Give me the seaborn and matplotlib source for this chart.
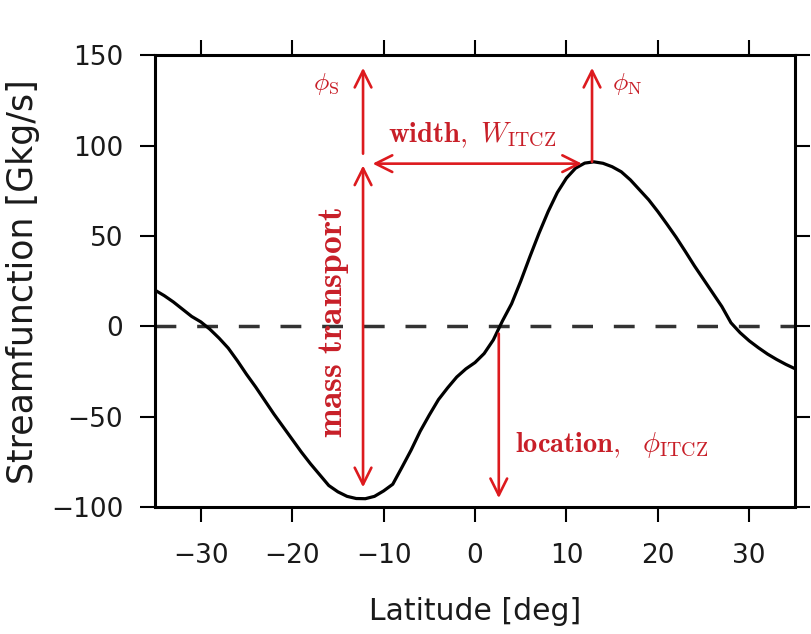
import matplotlib
matplotlib.use("Agg")
import matplotlib.pyplot as plt
import pandas as pd
import seaborn as sns

# Streamfunction (1 deg steps)
lat = list(range(-35, 36))
psi = [20, 17, 13.5, 9.5, 5.5, 2.5, -1.6, -6.5, -12, -19, -26.5,
       -33.5, -41, -48.5, -55.5, -62.5, -69.5, -76, -82, -88, -91.5,
       -94, -95.2, -95.3, -94, -91, -87.3, -78, -68.5, -58, -49,
       -40.5, -34, -28, -23.5, -20, -15, -7.5, 3, 12.5, 25,
       38.5, 51.5, 63.5, 74, 82, 87.5, 90.3, 91, 90.2, 88.3,
       85.5, 81, 75.5, 70, 63.5, 56.5, 49.3, 41.5, 33.5, 26,
       18.5, 11, 2, -3.5, -8, -11.8, -15.3, -18.3, -21, -23.4]

xticks = [-30, -20, -10, 0, 10, 20, 30]
yticks = [-100, -50, 0, 50, 100, 150]

df = pd.DataFrame({"lat": lat, "psi": psi})

sns.set_style("ticks")
plt.rcParams["font.family"] = ["DejaVu Sans"]
plt.rcParams["mathtext.fontset"] = "cm"

fig, ax = plt.subplots(figsize=(8.12, 6.34), dpi=100)
fig.subplots_adjust(left=0.191, right=0.979, bottom=0.200, top=0.913)

ax.axhline(0, color="0.2", lw=2.5, linestyle=(0, (6, 6)), zorder=1)
sns.lineplot(data=df, x="lat", y="psi", ax=ax, color="k", lw=2.3, zorder=3)

ax.set_xlim(-35, 35)
ax.set_ylim(-100, 150)
ax.set_xticks(xticks)
ax.set_yticks(yticks)
ax.tick_params(direction="out", length=11, width=1.5, top=True, right=True,
               colors="k", labelcolor="0.1")
ax.tick_params(axis="y", labelsize=19, pad=12)
ax.tick_params(axis="x", labelsize=19, pad=15)
for s in ax.spines.values():
    s.set_linewidth(2.2)
    s.set_color("k")
ax.set_xlabel("Latitude [deg]", fontsize=21.5, labelpad=20, color="0.1")
ax.set_ylabel("Streamfunction [Gkg/s]", fontsize=25, labelpad=8, color="0.1")

red = "#dd1a1e"
txt = "#c81f28"
arrow = dict(arrowstyle="->,head_length=0.6,head_width=0.3", color=red,
             lw=1.9, shrinkA=0, shrinkB=0, mutation_scale=20)
darrow = dict(arrow, arrowstyle="<->,head_length=0.6,head_width=0.3")

# phi_S and phi_N
ax.annotate("", xy=(-12.25, 143), xytext=(-12.25, 95.5), arrowprops=arrow)
ax.annotate("", xy=(12.8, 143), xytext=(12.8, 91), arrowprops=arrow)
ax.text(-14.8, 134, r"$\phi_{\mathrm{S}}$", color=txt, fontsize=18.5,
        ha="right", va="center")
ax.text(15.0, 134, r"$\phi_{\mathrm{N}}$", color=txt, fontsize=18.5,
        ha="left", va="center")

# width of the ITCZ
ax.annotate("", xy=(11.7, 90), xytext=(-11.2, 90), arrowprops=darrow)
ax.text(-9.5, 101.8, r"$\mathbf{width},\ W_{\mathrm{ITCZ}}$", color=txt,
        fontsize=20.5, ha="left", va="baseline")

# mass transport
ax.annotate("", xy=(-12.25, -89), xytext=(-12.25, 89), arrowprops=darrow)
ax.text(-15.4, 2, r"$\mathbf{mass\ transport}$", color=txt, fontsize=25.5,
        rotation=90, ha="center", va="center")

# location
ax.annotate("", xy=(2.6, -95), xytext=(2.6, -4), arrowprops=arrow)
ax.text(4.4, -69.7, r"$\mathbf{location},\ \ \phi_{\mathrm{ITCZ}}$",
        color=txt, fontsize=20.5, ha="left", va="baseline")

fig.savefig("out.png", dpi=100)
